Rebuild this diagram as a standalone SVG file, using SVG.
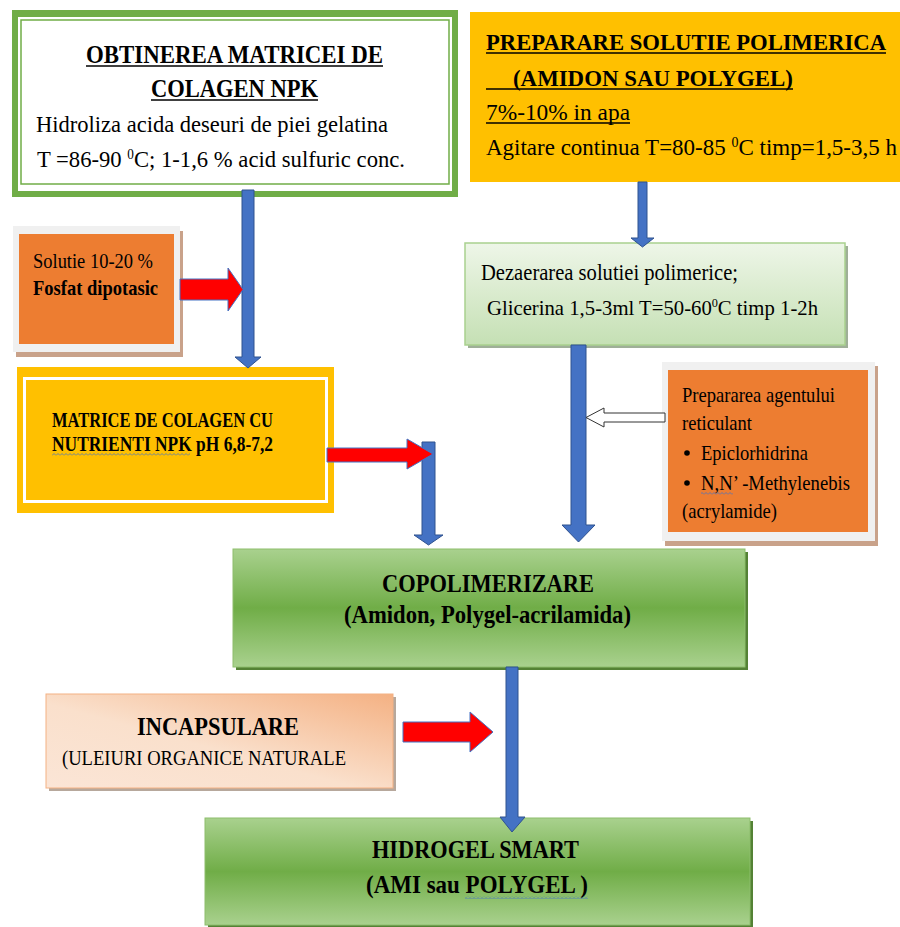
<svg xmlns="http://www.w3.org/2000/svg" width="900" height="927" viewBox="0 0 900 927" font-family="'Liberation Serif','Times New Roman',serif">
<defs>
<style>
text{font-family:"Liberation Serif","Times New Roman",serif;fill:#000}
.b{font-weight:bold}
.ul{stroke:#000;stroke-width:1.4}
.blue{fill:#4472C4;stroke:#2F528F;stroke-width:1}
.red{fill:#FF0000;stroke:#4472C4;stroke-width:1}
</style>
<linearGradient id="gG" x1="0" y1="0" x2="0" y2="1">
<stop offset="0" stop-color="#A9D18E"/><stop offset="0.5" stop-color="#70AD47"/><stop offset="1" stop-color="#A9D18E"/>
</linearGradient>
<linearGradient id="gL" x1="0" y1="0" x2="0" y2="1">
<stop offset="0" stop-color="#EEF6E8"/><stop offset="1" stop-color="#C5E0B4"/>
</linearGradient>
<linearGradient id="gP" x1="0" y1="1" x2="1" y2="0">
<stop offset="0" stop-color="#FBE5D6"/><stop offset="0.45" stop-color="#FAE0CC"/><stop offset="1" stop-color="#F4B183"/>
</linearGradient>
<pattern id="sq" width="4" height="3" patternUnits="userSpaceOnUse">
<path d="M0,2.5 L2,0.5 L4,2.5" fill="none" stroke="#4472C4" stroke-width="0.8"/>
</pattern>
</defs>
<rect width="900" height="927" fill="#fff"/>

<g id="box-obtinerea">
<rect x="12" y="10" width="446" height="187" fill="#70AD47"/>
<rect x="18" y="17" width="434" height="174" fill="#fff"/>
<rect x="21" y="20" width="428" height="164" fill="none" stroke="#70AD47" stroke-width="1.5"/>
<text class="b" x="86" y="63" font-size="26" textLength="297" lengthAdjust="spacingAndGlyphs">OBTINEREA MATRICEI DE</text>
<line class="ul" x1="86" y1="66" x2="383" y2="66"/>
<text class="b" x="151" y="97" font-size="26" textLength="167" lengthAdjust="spacingAndGlyphs">COLAGEN NPK</text>
<line class="ul" x1="151" y1="100" x2="318" y2="100"/>
<text x="36" y="132" font-size="24" textLength="352" lengthAdjust="spacingAndGlyphs">Hidroliza acida deseuri de piei gelatina</text>
<text x="37" y="167" font-size="24" textLength="368" lengthAdjust="spacingAndGlyphs">T =86-90 <tspan font-size="14" dy="-8">0</tspan><tspan dy="8">C; 1-1,6 % acid sulfuric conc.</tspan></text>
</g>

<g id="box-preparare">
<rect x="470" y="12" width="430" height="170" fill="#FFC000"/>
<text class="b" x="486" y="50" font-size="23" textLength="400" lengthAdjust="spacingAndGlyphs">PREPARARE SOLUTIE POLIMERICA</text>
<line class="ul" x1="486" y1="53" x2="886" y2="53"/>
<text class="b" x="513" y="86" font-size="24" textLength="280" lengthAdjust="spacingAndGlyphs">(AMIDON SAU POLYGEL)</text>
<line class="ul" x1="486" y1="89" x2="793" y2="89"/>
<text x="486" y="120" font-size="24" textLength="144" lengthAdjust="spacingAndGlyphs">7%-10%  in apa</text>
<line class="ul" x1="486" y1="123" x2="630" y2="123" stroke-width="1"/>
<text x="486" y="155" font-size="23" textLength="411" lengthAdjust="spacingAndGlyphs">Agitare continua T=80-85 <tspan font-size="14" dy="-8">0</tspan><tspan dy="8">C  timp=1,5-3,5 h</tspan></text>
</g>

<g id="box-solutie">
<rect x="16" y="231" width="167" height="126" fill="#C9A28A"/>
<rect x="13" y="226" width="167" height="126" fill="#F0F0F0"/>
<rect x="19" y="234" width="155" height="110" fill="#ED7D31"/>
<text x="33" y="268" font-size="20" textLength="120" lengthAdjust="spacingAndGlyphs">Solutie 10-20 %</text>
<text class="b" x="33" y="295" font-size="22" textLength="125" lengthAdjust="spacingAndGlyphs">Fosfat dipotasic</text>
</g>

<g id="box-dezaerarea">
<rect x="468" y="246" width="380" height="102" fill="#9FAF98"/>
<rect x="465" y="243" width="380" height="102" fill="url(#gL)" stroke="#A9D18E" stroke-width="1.5"/>
<text x="481" y="280" font-size="23" textLength="257" lengthAdjust="spacingAndGlyphs">Dezaerarea solutiei polimerice;</text>
<text x="487" y="315" font-size="22" textLength="331" lengthAdjust="spacingAndGlyphs">Glicerina 1,5-3ml T=50-60<tspan font-size="13" dy="-8">0</tspan><tspan dy="8">C timp 1-2h</tspan></text>
</g>

<g id="box-matrice">
<rect x="17" y="367" width="317" height="146" fill="#FFC000"/>
<rect x="24.5" y="378.5" width="302" height="123" fill="none" stroke="#fff" stroke-width="3"/>
<text class="b" x="52" y="427" font-size="20" textLength="221" lengthAdjust="spacingAndGlyphs">MATRICE DE COLAGEN CU</text>
<text class="b" x="52" y="451" font-size="20" textLength="221" lengthAdjust="spacingAndGlyphs">NUTRIENTI  NPK   pH 6,8-7,2</text>
<rect x="52" y="453" width="138" height="3" fill="url(#sq)"/>
</g>

<g id="box-agent">
<rect x="665" y="366" width="213" height="180" fill="#C9A28A"/>
<rect x="662" y="362" width="213" height="179" fill="#F0F0F0"/>
<rect x="668" y="370" width="200" height="162" fill="#ED7D31"/>
<text x="682" y="402" font-size="21" textLength="153" lengthAdjust="spacingAndGlyphs">Prepararea agentului</text>
<text x="682" y="430" font-size="21" textLength="70" lengthAdjust="spacingAndGlyphs">reticulant</text>
<circle cx="687" cy="453" r="2.8" fill="#000"/>
<text x="701" y="460" font-size="21" textLength="107" lengthAdjust="spacingAndGlyphs">Epiclorhidrina</text>
<circle cx="687" cy="483" r="2.8" fill="#000"/>
<text x="701" y="490" font-size="21" textLength="149" lengthAdjust="spacingAndGlyphs">N,N’ -Methylenebis</text>
<rect x="701" y="492" width="32" height="3" fill="url(#sq)"/>
<text x="682" y="518" font-size="21" textLength="95" lengthAdjust="spacingAndGlyphs">(acrylamide)</text>
</g>

<g id="box-copolimerizare">
<rect x="236" y="552" width="512" height="118" fill="#548235"/>
<rect x="233" y="549" width="512" height="118" fill="url(#gG)" stroke="#8DBE6C" stroke-width="1"/>
<text class="b" x="382" y="592" font-size="25" textLength="212" lengthAdjust="spacingAndGlyphs">COPOLIMERIZARE</text>
<text class="b" x="344" y="623" font-size="25" textLength="287" lengthAdjust="spacingAndGlyphs">(Amidon, Polygel-acrilamida)</text>
</g>

<g id="box-incapsulare">
<rect x="49" y="697" width="347" height="94" fill="#B7A89C"/>
<rect x="46" y="694" width="347" height="94" fill="url(#gP)" stroke="#F4B183" stroke-width="1"/>
<text class="b" x="137" y="735" font-size="25" textLength="162" lengthAdjust="spacingAndGlyphs">INCAPSULARE</text>
<text x="62" y="765" font-size="21" textLength="284" lengthAdjust="spacingAndGlyphs">(ULEIURI ORGANICE NATURALE</text>
</g>

<g id="box-hidrogel">
<rect x="208" y="821" width="545" height="110" fill="#548235"/>
<rect x="205" y="818" width="545" height="107" fill="url(#gG)" stroke="#8DBE6C" stroke-width="1"/>
<text class="b" x="372" y="858" font-size="25" textLength="207" lengthAdjust="spacingAndGlyphs">HIDROGEL SMART</text>
<text class="b" x="366" y="893" font-size="25" textLength="222" lengthAdjust="spacingAndGlyphs">(AMI sau POLYGEL )</text>
<rect x="465" y="896" width="123" height="3" fill="url(#sq)"/>
</g>

<g id="connectors">
<polygon class="blue" points="242,190 254,190 254,357 261,357 248,368 235,357 242,357"/>
<polygon class="blue" points="638,182 647,182 647,238 654,238 642.5,247 631,238 638,238"/>
<polygon class="blue" points="571,345 586,345 586,525 595,525 578.5,542 562,525 571,525"/>
<polygon class="blue" points="422,442 435,442 435,535 443,535 428.5,545 414,535 422,535"/>
<polygon class="blue" points="506,667 518,667 518,817 525,817 512,832 500,817 506,817"/>
<polygon class="red" points="180,279 228,279 228,268 243,289.5 228,311 228,300 180,300"/>
<polygon class="red" points="327,448 407,448 407,439 433,454 407,469 407,462 327,462"/>
<polygon class="red" points="403,722 470,722 470,712 493,732 470,752 470,742 403,742"/>
<polygon points="665,413 604,413 604,408 586,417.5 604,427 604,422 665,422" fill="#fff" stroke="#333" stroke-width="1"/>
</g>
</svg>
